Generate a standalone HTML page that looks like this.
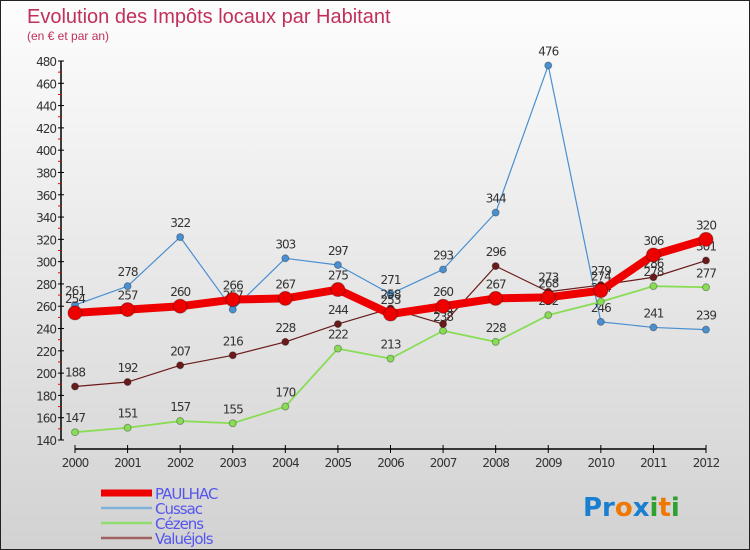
<!DOCTYPE html>
<html><head><meta charset="utf-8"><style>
body{margin:0}
#c{width:748px;height:548px;border:1px solid #222;background:linear-gradient(#fdfdfd,#d2d2d2);position:relative;font-family:"DejaVu Sans","Liberation Sans",sans-serif;overflow:hidden}
svg{position:absolute;left:0;top:0}
</style></head><body>
<div id="c">
<svg id="s" width="748" height="548" xmlns="http://www.w3.org/2000/svg">
<text x="26" y="22" font-size="20" fill="#c0305a" font-family="Liberation Sans, sans-serif">Evolution des Impôts locaux par Habitant</text>
<text x="26" y="39" font-size="12" fill="#c0305a" font-family="Liberation Sans, sans-serif">(en € et par an)</text>
</svg>
</div>
<script>
const years=[2000,2001,2002,2003,2004,2005,2006,2007,2008,2009,2010,2011,2012];
const yTicks=[140,160,180,200,220,240,260,280,300,320,340,360,380,400,420,440,460,480];
const paulhac=[254,257,260,266,267,275,253,260,267,268,274,306,320];
const cussac=[261,278,322,257,303,297,271,293,344,476,246,241,239];
const cezens=[147,151,157,155,170,222,213,238,228,252,264,278,277];
const valuejols=[188,192,207,216,228,244,258,244,296,273,279,286,301];
const s=document.getElementById('s');const NS='http://www.w3.org/2000/svg';
function X(i){return 74+i*(705-74)/12}
function Y(v){return 439-(v-140)*(379/340)}
function el(t,a,p){const e=document.createElementNS(NS,t);for(const k in a)e.setAttribute(k,a[k]);(p||s).appendChild(e);return e}
let ax=el('line',{x1:60,y1:Y(480),x2:60,y2:Y(140),stroke:'#000','stroke-width':1.5});


let bx=el('line',{x1:74,y1:448,x2:705,y2:448,stroke:'#000','stroke-width':1.5});


yTicks.forEach(v=>{el('line',{x1:57,x2:63,y1:Y(v),y2:Y(v),stroke:'#000'});
if(v<480)el('line',{x1:57,x2:60,y1:Y(v+10),y2:Y(v+10),stroke:'#e00'});
const t=el('text',{x:55,y:Y(v)+5,'font-size':12,fill:'#333','text-anchor':'end','letter-spacing':'-1'});t.textContent=v;

});
years.forEach((y,i)=>{el('line',{x1:X(i),x2:X(i),y1:444,y2:452,stroke:'#000'});
const t=el('text',{x:X(i),y:466,'font-size':12,fill:'#333','text-anchor':'middle','letter-spacing':'-1'});t.textContent=y;

});
function series(d,col,w,r,name){
const g=el('g',{});


el('polyline',{points:d.map((v,i)=>X(i)+','+Y(v)).join(' '),fill:'none',stroke:col,'stroke-width':w,'stroke-linejoin':'round'},g);
d.forEach((v,i)=>{const c=el('circle',{cx:X(i),cy:Y(v),r:r,fill:col,stroke:'rgba(0,0,0,0.3)','stroke-width':1},g);


const t=el('text',{x:X(i),y:Y(v)-10,'font-size':12,fill:'#333','text-anchor':'middle','letter-spacing':'-1'},g);t.textContent=v;

});}
series(cussac,'#4a90d0',1.2,3.5,'cussac');
series(cezens,'#88dd55',1.8,3.5,'cezens');
series(valuejols,'#6a1a1a',1.2,3.5,'valuejols');
series(paulhac,'#ee0000',8,7,'paulhac');
const leg=[['PAULHAC','#ee0000',7],['Cussac','#80b0d8',2.5],['Cézens','#90dd70',2.5],['Valuéjols','#a06060',2.5]];
leg.forEach((l,i)=>{const y=492+i*15;const g=el('g',{});


el('line',{x1:100,x2:151,y1:y,y2:y,stroke:l[1],'stroke-width':l[2]},g);
const t=el('text',{x:154,y:y+6,'font-size':15,fill:'#5555ee','letter-spacing':'-1'},g);t.textContent=l[0];});
const lg=el('text',{x:582,y:515,'font-size':26,'font-weight':'bold'});


[['Pr','#1a7fd0'],['o','#f07800'],['x','#1a7fd0'],['i','#30a030'],['t','#f07800'],['i','#30a030']].forEach(p=>{const ts=el('tspan',{fill:p[1]},lg);ts.textContent=p[0];});
</script>
</body></html>
